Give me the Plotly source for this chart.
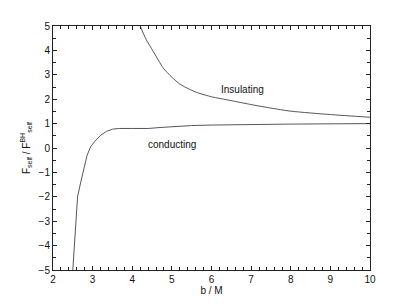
import plotly.graph_objects as go

# Insulating branch
b_ins = [4.2, 4.35, 4.53, 4.78, 5.0, 5.2, 5.45, 5.64, 6.0, 6.47, 7.0, 7.3, 8.0, 9.0, 10.0]
f_ins = [5.0, 4.45, 3.96, 3.28, 2.9, 2.62, 2.4, 2.27, 2.1, 1.95, 1.78, 1.69, 1.51, 1.37, 1.26]

# Conducting branch
b_con = [2.5, 2.56, 2.62, 2.7, 2.78, 2.86, 2.95, 3.06, 3.2, 3.35, 3.5, 3.65, 4.0, 4.4,
         4.7, 5.0, 5.5, 6.0, 7.0, 8.0, 9.0, 10.0]
f_con = [-5.0, -3.5, -2.0, -1.4, -0.85, -0.3, 0.05, 0.28, 0.52, 0.68, 0.77, 0.8, 0.8, 0.8,
         0.84, 0.88, 0.92, 0.94, 0.97, 0.98, 0.99, 1.0]

x_ticks = [2, 3, 4, 5, 6, 7, 8, 9, 10]
y_ticks = [-5, -4, -3, -2, -1, 0, 1, 2, 3, 4, 5]

FONT = "Liberation Sans, Arial, sans-serif"
LINE = "#444444"

fig = go.Figure()
fig.add_trace(go.Scatter(x=b_ins, y=f_ins, mode="lines",
                         line=dict(color=LINE, width=0.9, shape="spline", smoothing=0.6),
                         showlegend=False))
fig.add_trace(go.Scatter(x=b_con, y=f_con, mode="lines",
                         line=dict(color=LINE, width=0.9), showlegend=False))

fig.add_annotation(x=6.77, y=2.4, text="Insulating", showarrow=False,
                   font=dict(family=FONT, size=10, color="#111"))
fig.add_annotation(x=5.0, y=0.16, text="conducting", showarrow=False,
                   font=dict(family=FONT, size=10, color="#111"))

axis_common = dict(
    showgrid=False, zeroline=False, showline=True, linecolor="#222", linewidth=1,
    mirror="ticks", ticks="inside", ticklen=4, tickcolor="#222", tickwidth=1,
    tickfont=dict(family=FONT, size=10, color="#111"),
)

fig.update_xaxes(range=[2, 10], tickvals=x_ticks,
                 minor=dict(dtick=0.2, ticks="inside", ticklen=3, tickcolor="#222", tickwidth=1),
                 title=dict(text="b / M", font=dict(family=FONT, size=10, color="#111"), standoff=2),
                 **axis_common)
fig.update_yaxes(range=[-5, 5], tickvals=y_ticks,
                 minor=dict(dtick=0.5, ticks="inside", ticklen=3, tickcolor="#222", tickwidth=1),
                 title=dict(text="F<sub>self</sub> / F<sup>BH</sup><sub>self</sub>",
                            font=dict(family=FONT, size=10, color="#111"), standoff=6),
                 **axis_common)

fig.update_layout(
    width=400, height=298,
    margin=dict(l=45, r=38, t=14, b=34),
    paper_bgcolor="white", plot_bgcolor="white",
    font=dict(family=FONT, size=10, color="#111"),
)

fig.write_html("out.html")
